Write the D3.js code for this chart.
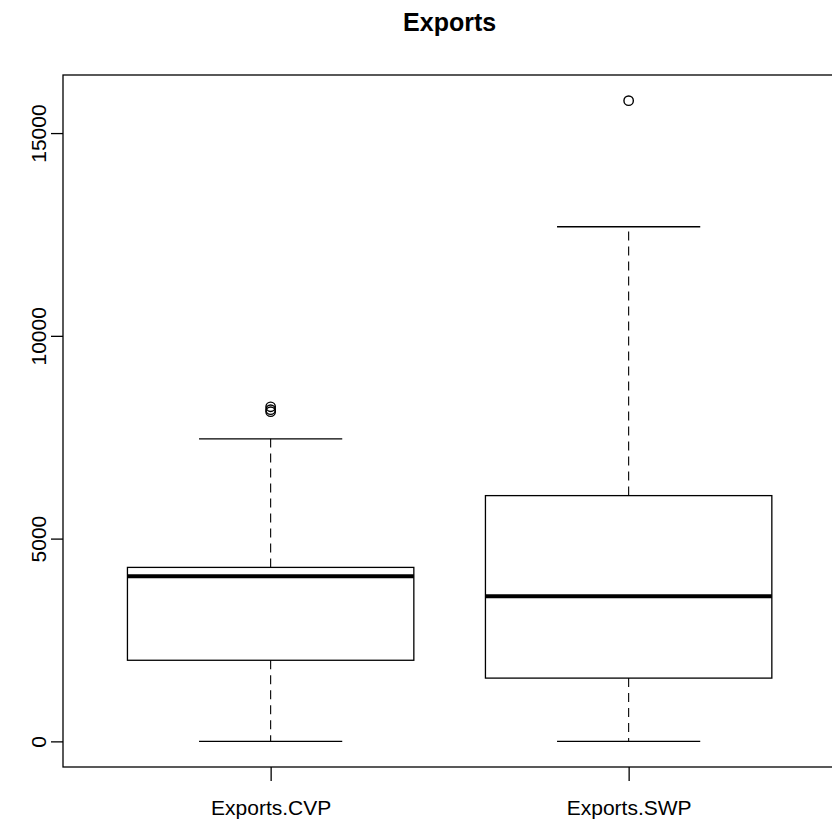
<!DOCTYPE html>
<html>
<head>
<meta charset="utf-8">
<script src="https://cdn.jsdelivr.net/npm/d3@7"></script>
<style>
  html, body { margin: 0; padding: 0; background: #fff; }
  svg { display: block; }
  text { font-family: "Liberation Sans", Arial, Helvetica, sans-serif; fill: #000; }
</style>
</head>
<body>
<div id="chart"></div>
<script>
// Box statistics for each series
const categories = ["Exports.CVP", "Exports.SWP"];
const whiskerLow  = [0, 0];
const q1          = [2000, 1560];
const medians     = [4070, 3580];
const q3          = [4290, 6060];
const whiskerHigh = [7460, 12690];
const outliers    = [[8130, 8180, 8250], [15800]];
const yTicks      = [0, 5000, 10000, 15000];
const chartTitle  = "Exports";

const W = 832, H = 828;
const plot = { left: 63, top: 75, bottom: 767 };

const svg = d3.select("#chart").append("svg")
  .attr("width", W).attr("height", H);

// x: categories sit at 1 and 2, range padded 4% like base graphics
const xDomain = [0.5, categories.length + 0.5];
const xPad = (xDomain[1] - xDomain[0]) * 0.04;
const x = d3.scaleLinear()
  .domain([xDomain[0] - xPad, xDomain[1] + xPad])
  .range([plot.left, plot.left + 358 * (xDomain[1] - xDomain[0] + 2 * xPad)]);

const allVals = whiskerLow.concat(whiskerHigh, outliers.flat());
const yMin = d3.min(allVals), yMax = d3.max(allVals);
const yPad = (yMax - yMin) * 0.04;
const y = d3.scaleLinear()
  .domain([yMin - yPad, yMax + yPad])
  .range([plot.bottom, plot.top]);

const plotRight = x.range()[1];

// plot frame
svg.append("rect")
  .attr("x", plot.left).attr("y", plot.top)
  .attr("width", plotRight - plot.left).attr("height", plot.bottom - plot.top)
  .attr("fill", "none").attr("stroke", "#000").attr("stroke-width", 1.3);

// boxes
const boxHalf = 0.4, capHalf = 0.2;
categories.forEach((c, i) => {
  const cx = x(i + 1);
  const g = svg.append("g");
  // dashed whiskers
  g.append("line").attr("x1", cx).attr("x2", cx)
    .attr("y1", y(q3[i])).attr("y2", y(whiskerHigh[i]))
    .attr("stroke", "#000").attr("stroke-width", 1.1).attr("stroke-dasharray", "9,6");
  g.append("line").attr("x1", cx).attr("x2", cx)
    .attr("y1", y(q1[i])).attr("y2", y(whiskerLow[i]))
    .attr("stroke", "#000").attr("stroke-width", 1.1).attr("stroke-dasharray", "9,6");
  // whisker caps
  [whiskerHigh[i], whiskerLow[i]].forEach(v => {
    g.append("line")
      .attr("x1", x(i + 1 - capHalf)).attr("x2", x(i + 1 + capHalf))
      .attr("y1", y(v)).attr("y2", y(v))
      .attr("stroke", "#000").attr("stroke-width", 1.3);
  });
  // box
  g.append("rect")
    .attr("x", x(i + 1 - boxHalf)).attr("y", y(q3[i]))
    .attr("width", x(i + 1 + boxHalf) - x(i + 1 - boxHalf))
    .attr("height", y(q1[i]) - y(q3[i]))
    .attr("fill", "none").attr("stroke", "#000").attr("stroke-width", 1.3);
  // median
  g.append("line")
    .attr("x1", x(i + 1 - boxHalf)).attr("x2", x(i + 1 + boxHalf))
    .attr("y1", y(medians[i])).attr("y2", y(medians[i]))
    .attr("stroke", "#000").attr("stroke-width", 4);
  // outliers
  g.selectAll("circle").data(outliers[i]).enter().append("circle")
    .attr("cx", cx).attr("cy", d => y(d)).attr("r", 4.7)
    .attr("fill", "none").attr("stroke", "#000").attr("stroke-width", 1.4);
});

// y axis
const yAxis = svg.append("g").attr("transform", `translate(${plot.left},0)`)
  .call(d3.axisLeft(y).tickValues(yTicks).tickSize(12).tickFormat(d3.format("d")));
yAxis.select(".domain").remove();
yAxis.selectAll(".tick line").attr("stroke", "#000").attr("stroke-width", 1.3);
yAxis.selectAll(".tick text")
  .attr("font-size", 21).attr("font-family", null)
  .attr("x", null).attr("dy", null)
  .attr("text-anchor", "middle")
  .attr("transform", "translate(-17,0) rotate(-90)");

// x axis
const xAxis = svg.append("g").attr("transform", `translate(0,${plot.bottom})`)
  .call(d3.axisBottom(x).tickValues(categories.map((c, i) => i + 1))
    .tickSize(14).tickFormat((d, i) => categories[i]));
xAxis.select(".domain").remove();
xAxis.selectAll(".tick line").attr("stroke", "#000").attr("stroke-width", 1.3);
xAxis.selectAll(".tick text")
  .attr("font-size", 21).attr("font-family", null)
  .attr("y", 48).attr("dy", null);

// title
svg.append("text")
  .attr("x", (plot.left + plotRight) / 2).attr("y", 31)
  .attr("text-anchor", "middle")
  .attr("font-size", 25).attr("font-weight", "bold")
  .text(chartTitle);
</script>
</body>
</html>
